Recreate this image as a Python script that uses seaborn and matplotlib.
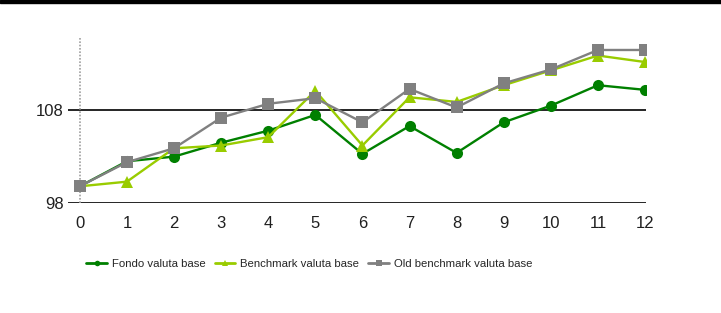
import numpy as np
import pandas as pd
import seaborn as sns
import matplotlib.pyplot as plt
from matplotlib.lines import Line2D

periods = list(range(13))
fondo = [99.8, 102.5, 103.0, 104.5, 105.8, 107.5, 103.3, 106.3, 103.4, 106.7, 108.5, 110.7, 110.2]
benchmark = [99.8, 100.3, 103.9, 104.2, 105.1, 110.1, 104.2, 109.4, 108.9, 110.7, 112.3, 113.9, 113.2]
old_benchmark = [99.8, 102.4, 103.9, 107.2, 108.7, 109.3, 106.7, 110.3, 108.3, 110.9, 112.4, 114.5, 114.5]
series_names = ['Fondo valuta base', 'Benchmark valuta base', 'Old benchmark valuta base']
y_ticks = [98, 108]

df = pd.DataFrame({
    'periodo': periods * 3,
    'valore': fondo + benchmark + old_benchmark,
    'serie': np.repeat(series_names, len(periods)),
})

sns.set_style('white')
plt.rcParams['font.family'] = ['Liberation Sans', 'DejaVu Sans']

colors = {'Fondo valuta base': '#008000',
          'Benchmark valuta base': '#99cc00',
          'Old benchmark valuta base': '#808080'}
markers = {'Fondo valuta base': 'o',
           'Benchmark valuta base': '^',
           'Old benchmark valuta base': 's'}

fig = plt.figure(figsize=(7.21, 3.13), dpi=100)
ax = fig.add_axes([68 / 721, 110 / 313, 578 / 721, 166 / 313])

sns.lineplot(data=df, x='periodo', y='valore', hue='serie', style='serie',
             palette=colors, markers=markers, dashes=False, linewidth=1.7,
             markersize=8, markeredgewidth=0, ax=ax, legend=False)

ax.set_xlim(-0.25, 12.02)
ax.set_ylim(98, 115.9)
for v in y_ticks:
    ax.axhline(v, color='black', linewidth=1.2, zorder=0)
ax.axvline(0, color='#a0a0a0', linewidth=1.2, linestyle=(0, (1, 1)), zorder=0)
for s in ax.spines.values():
    s.set_visible(False)
ax.set_xticks(periods)
ax.set_yticks(y_ticks)
ax.tick_params(axis='both', length=0, labelsize=12, colors='#202020')
ax.tick_params(axis='x', pad=9)
ax.tick_params(axis='y', pad=3)
ax.set_xlabel('')
ax.set_ylabel('')

handles = [Line2D([], [], color=colors[n], marker=markers[n], markersize=4,
                  markeredgewidth=0, linewidth=2) for n in series_names]
fig.legend(handles, series_names, loc='center left', bbox_to_anchor=(76 / 721, 1 - 264 / 313),
           ncol=3, frameon=False, fontsize=8.2, handlelength=1.8, handletextpad=0.45,
           columnspacing=0.8)

fig.patches.append(plt.Rectangle((0, 1 - 3 / 313), 1, 3 / 313, transform=fig.transFigure,
                                 color='black', zorder=10))

fig.savefig('out.png', dpi=100)
